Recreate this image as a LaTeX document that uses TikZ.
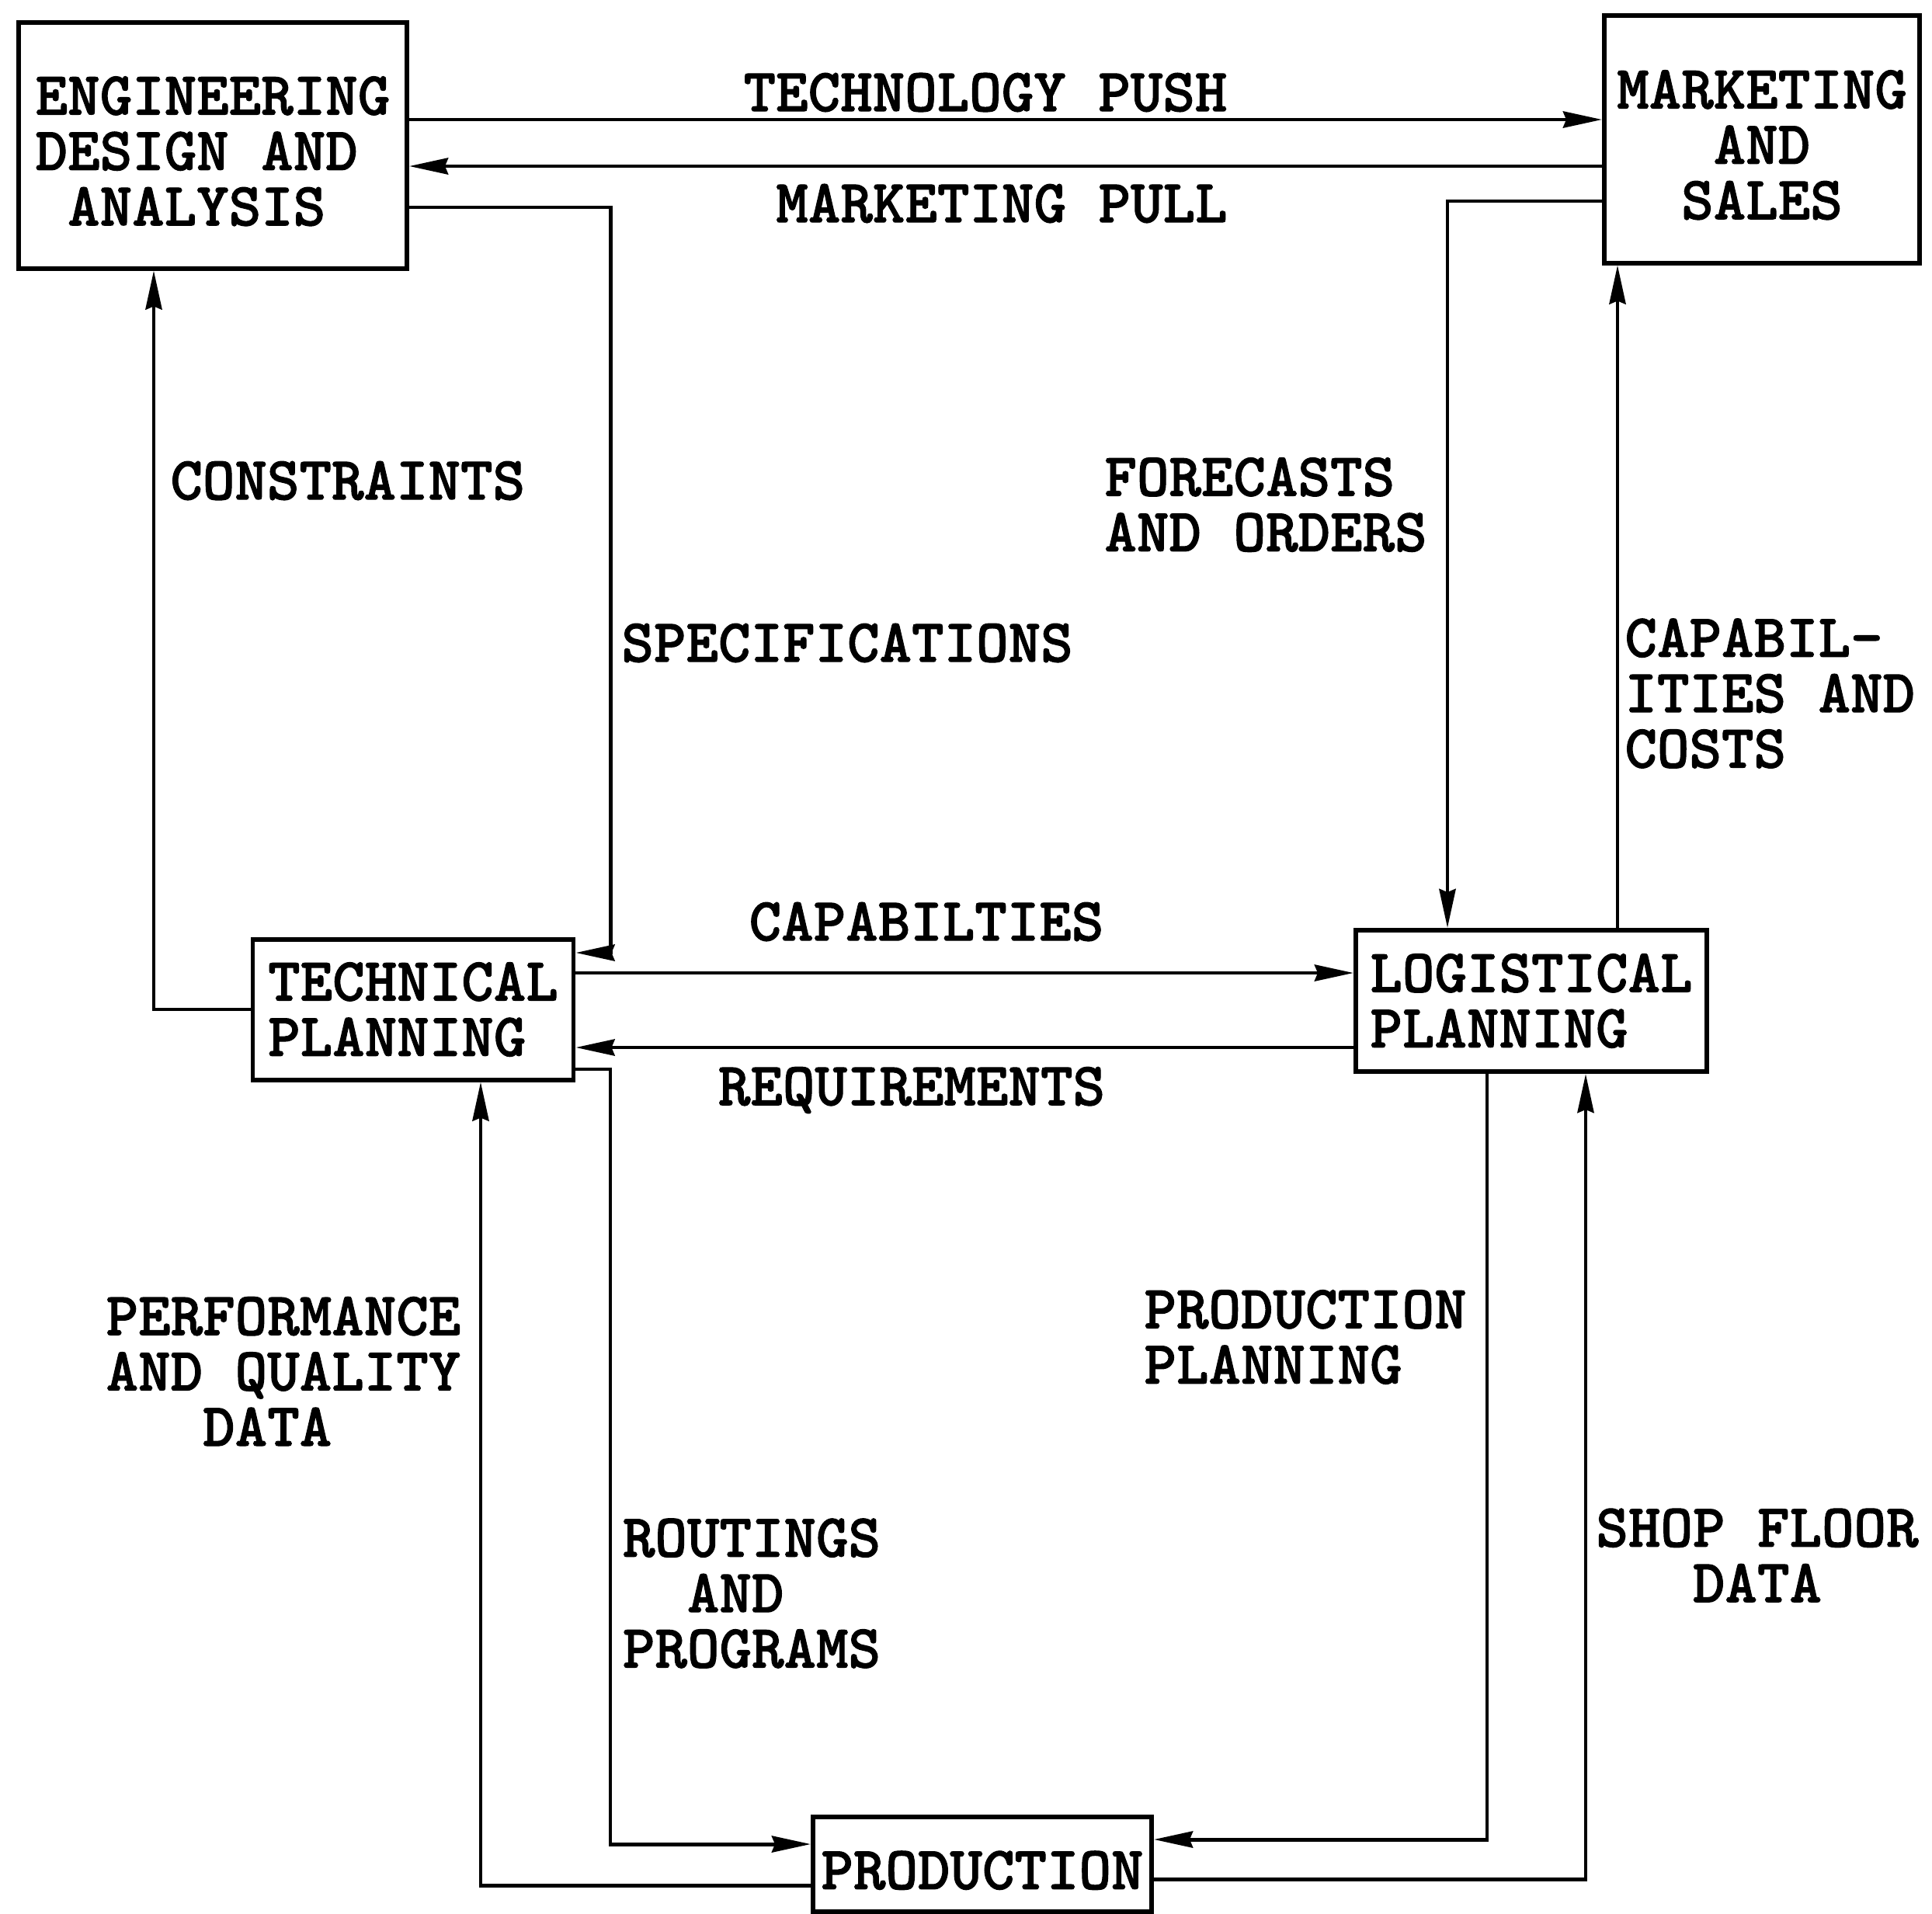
\documentclass[tikz,border=0pt]{standalone}
\usepackage{fontspec}
\newfontfamily\typewriter{lmmonolt10-bold.otf}[FakeBold=1.3]
\usetikzlibrary{arrows.meta}
\newcommand{\topgap}{\rule{0pt}{18.4pt}}
\tikzset{
  every picture/.style={line width=1.4pt},
  box/.style={draw, line width=1.7pt, align=left, inner sep=0pt, font=\typewriter\fontsize{22.5}{20.3}\selectfont},
  arrow/.style={-{Stealth[length=5mm, width=2.1mm, inset=0.4mm]}, line width=1.4pt},
  note/.style={inner sep=0pt, align=left, font=\typewriter\fontsize{22.5}{20.3}\selectfont},
}
\begin{document}
\begin{tikzpicture}
  \useasboundingbox (0,0) rectangle (24.88,-24.64);
  \node[box, minimum width=5cm, minimum height=3.17cm] (eng) at (2.74,-1.87) {\topgap ENGINEERING\\DESIGN AND\\\hphantom{A}ANALYSIS};
  \node[box, align=center, minimum width=4.06cm, minimum height=3.19cm] (mkt) at (22.69,-1.79) {\topgap MARKETING\\AND\\SALES};
  \node[box, minimum width=4.13cm, minimum height=1.81cm] (tech) at (5.32,-13.0) {TECHNICAL\\PLANNING};
  \node[box, minimum width=4.52cm, minimum height=1.82cm] (log) at (19.72,-12.89) {LOGISTICAL\\PLANNING};
  \node[box, minimum width=4.36cm, minimum height=1.22cm] (prod) at (12.65,-24.01) {\topgap PRODUCTION};

  \draw[arrow] ([yshift=3.3mm]eng.east) -- ([yshift=3.3mm]eng.east -| mkt.west);
  \draw[arrow] ([yshift=-2.7mm]eng.east -| mkt.west) -- ([yshift=-2.7mm]eng.east);
  \draw[arrow] ([yshift=-8mm]eng.east) -| ([xshift=4.5mm, yshift=7.3mm]tech.east) -- ([yshift=7.3mm]tech.east);
  \draw[arrow] (tech.west) -| ([xshift=-7.6mm]eng.south);
  \draw[arrow] ([yshift=4.7mm]tech.east) -- ([yshift=4.7mm]tech.east -| log.west);
  \draw[arrow] ([yshift=-4.9mm]tech.east -| log.west) -- ([yshift=-4.9mm]tech.east);
  \draw[arrow] ([yshift=-8mm]mkt.west) -| ([xshift=-10.8mm]log.north);
  \draw[arrow] ([xshift=11.1mm]log.north) -- ([xshift=11.1mm]log.north |- mkt.south);
  \draw[arrow] ([yshift=-7.7mm]tech.east) -| ([xshift=-25.8mm, yshift=2.6mm]prod.west) -- ([yshift=2.6mm]prod.west);
  \draw[arrow] ([yshift=-2.7mm]prod.west) -| ([xshift=8.7mm]tech.south);
  \draw[arrow] ([xshift=-5.7mm]log.south) |- ([yshift=3.2mm]prod.east);
  \draw[arrow] ([yshift=-1.9mm]prod.east) -| ([xshift=7mm]log.south);

  \node[note] (push) at (12.69,-1.19) {TECHNOLOGY PUSH};
  \node[note] (pull) at (12.90,-2.62) {MARKETING PULL};
  \node[note, anchor=west] (spec) at (7.98,-8.28) {SPECIFICATIONS};
  \node[note, anchor=west] (cons) at (2.17,-6.19) {CONSTRAINTS};
  \node[note, anchor=west] (fore) at (14.20,-6.50) {FORECASTS\\AND ORDERS};
  \node[note, anchor=west] (capcost) at (20.90,-8.93) {CAPABIL-\\ITIES AND\\COSTS};
  \node[note] (capab) at (11.93,-11.87) {CAPABILTIES};
  \node[note] (req) at (11.74,-14.04) {REQUIREMENTS};
  \node[note] (perf) at (3.65,-17.66) {PERFORMANCE\\AND QUALITY\\\hphantom{AAA}DATA};
  \node[note] (rout) at (9.68,-20.52) {ROUTINGS\\\hphantom{AA}AND\\PROGRAMS};
  \node[note, anchor=west] (pplan) at (14.71,-17.22) {PRODUCTION\\PLANNING};
  \node[note, align=center] (shop) at (22.63,-20.03) {SHOP FLOOR\\DATA};
\end{tikzpicture}
\end{document}
